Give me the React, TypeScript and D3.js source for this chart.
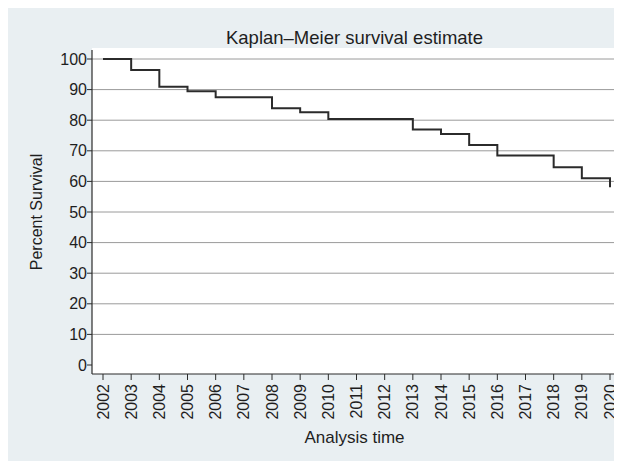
import * as React from 'react';
import * as d3 from 'd3';

// Kaplan–Meier step points (time, percent surviving)
const eventYears = [2002, 2003, 2004, 2005, 2006, 2008, 2009, 2010, 2013, 2014, 2015, 2016, 2018, 2019, 2020];
const survival = [100, 96.4, 90.9, 89.5, 87.5, 83.9, 82.6, 80.4, 77.0, 75.5, 71.9, 68.5, 64.6, 61.0, 58.1];

const xTicks = [2002, 2003, 2004, 2005, 2006, 2007, 2008, 2009, 2010, 2011,
  2012, 2013, 2014, 2015, 2016, 2017, 2018, 2019, 2020];
const yTicks = [0, 10, 20, 30, 40, 50, 60, 70, 80, 90, 100];

const W = 622;
const H = 461;
const font = '"Liberation Sans", Arial, sans-serif';

export default function App() {
  const plot = {left: 92, right: 617, top: 48, bottom: 374};

  const x = d3.scaleLinear().domain([2002, 2020]).range([103, 610]);
  const y = d3.scaleLinear().domain([0, 100]).range([365, 59]);

  const line = d3.line<[number, number]>()
    .x((d) => x(d[0]))
    .y((d) => y(d[1]))
    .curve(d3.curveStepAfter);

  const data = eventYears.map((t, i) => [t, survival[i]] as [number, number]);

  return (
    <svg width={W - 8} height={H - 8} style={{display: 'block'}}>
      <g transform="translate(-8,-8)">
        <rect x={8} y={8} width={W - 8} height={H - 8} fill="#e9eff2" />
        <rect x={plot.left} y={plot.top} width={plot.right - plot.left}
          height={plot.bottom - plot.top} fill="#ffffff" />

        {/* grid */}
        {yTicks.filter((t) => t > 0).map((t) => (
          <line key={'g' + t} x1={plot.left} x2={plot.right} y1={y(t)} y2={y(t)}
            stroke="#9a9a9a" strokeWidth={1} />
        ))}

        {/* survival curve */}
        <path d={line(data) || ''} fill="none" stroke="#2b2b2b" strokeWidth={2} />

        {/* y axis */}
        <line x1={plot.left} x2={plot.left} y1={plot.top + 2} y2={plot.bottom}
          stroke="#2b2b2b" strokeWidth={1.2} />
        {yTicks.map((t) => (
          <g key={'y' + t}>
            <line x1={plot.left - 5} x2={plot.left} y1={y(t)} y2={y(t)} stroke="#2b2b2b" />
            <text x={plot.left - 5} y={y(t)} textAnchor="end" dominantBaseline="central"
              fontFamily={font} fontSize={16} fill="#1e1e1e">{t}</text>
          </g>
        ))}

        {/* x axis */}
        <line x1={plot.left} x2={plot.right} y1={plot.bottom} y2={plot.bottom}
          stroke="#2b2b2b" strokeWidth={1.2} />
        {xTicks.map((t) => (
          <g key={'x' + t}>
            <line x1={x(t)} x2={x(t)} y1={plot.bottom} y2={plot.bottom + 6} stroke="#2b2b2b" />
            <text transform={`translate(${x(t)},${plot.bottom + 10}) rotate(-90)`}
              textAnchor="end" dominantBaseline="central"
              fontFamily={font} fontSize={16} fill="#1e1e1e">{t}</text>
          </g>
        ))}

        <text x={(plot.left + plot.right) / 2} y={37} textAnchor="middle"
          dominantBaseline="central" fontFamily={font} fontSize={18.5} fill="#1e1e1e">
          Kaplan–Meier survival estimate
        </text>
        <text x={(plot.left + plot.right) / 2} y={437} textAnchor="middle"
          dominantBaseline="central" fontFamily={font} fontSize={17} fill="#1e1e1e">
          Analysis time
        </text>
        <text transform={`translate(36,212) rotate(-90)`} textAnchor="middle"
          dominantBaseline="central" fontFamily={font} fontSize={16} fill="#1e1e1e">
          Percent Survival
        </text>
      </g>
    </svg>
  );
}
